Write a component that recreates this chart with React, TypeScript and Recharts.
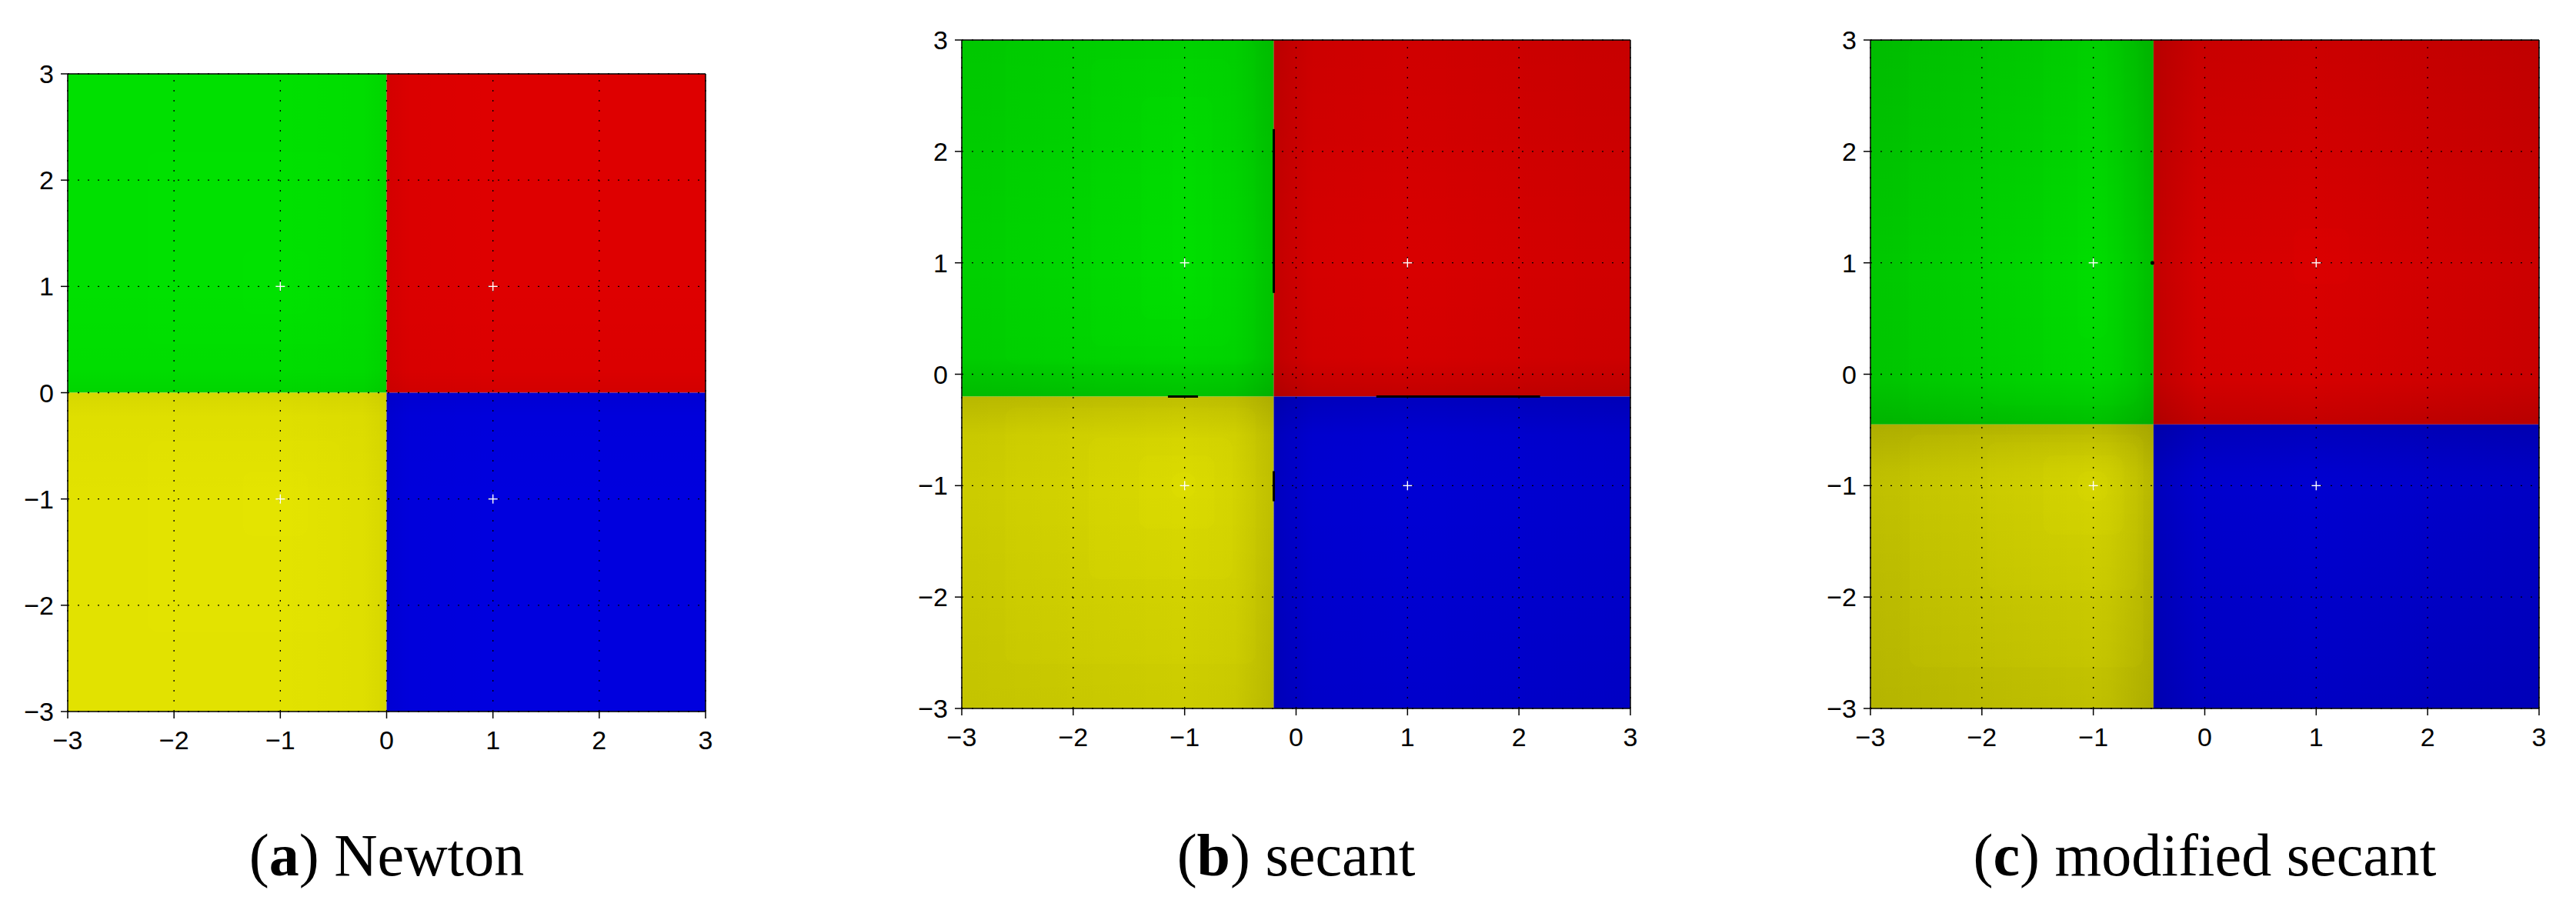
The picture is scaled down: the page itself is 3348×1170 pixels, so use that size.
import React from 'react';
import {
  ComposedChart,
  XAxis,
  YAxis,
  ReferenceArea,
  ReferenceLine,
  ReferenceDot,
  Scatter,
} from 'recharts';

// ---------------- data ----------------
const TICKS = [-3, -2, -1, 0, 1, 2, 3];
const TICK_LABELS = ['−3', '−2', '−1', '0', '1', '2', '3'];
const ROOTS = [
  { x: 1, y: 1 },
  { x: -1, y: 1 },
  { x: -1, y: -1 },
  { x: 1, y: -1 },
];

// basin boundaries [x, y] for each method
const SPLIT_NEWTON = [0, 0];
const SPLIT_SECANT = [-0.2, -0.2];
const SPLIT_MODIFIED = [-0.46, -0.45];

// level-set regions [x1, x2, y1, y2]
const NEWTON_GREEN_RINGS = [
  [-2.25, -0.43, 0.46, 2.26],
  [-1.35, -0.73, 0.74, 1.34],
];
const NEWTON_YELLOW_RINGS = [
  [-2.25, -0.44, -2.25, -0.45],
  [-1.35, -0.74, -1.35, -0.74],
];
const SECANT_GREEN_RINGS = [
  [-2.61, -0.36, 0.09, 3],
  [-1.84, -0.59, 0.25, 2.83],
  [-1.39, -0.75, 0.49, 2.49],
  [-1.11, -0.9, 0.7, 2.18],
];
const SECANT_YELLOW_RINGS = [
  [-2.61, -0.36, -2.6, -0.3],
  [-1.86, -0.57, -1.84, -0.57],
  [-1.41, -0.73, -1.39, -0.73],
  [-1.12, -0.9, -1.11, -0.88],
];
const MODIFIED_GREEN_RINGS = [
  [-2.66, -0.55, -0.42, 3],
  [-1.95, -0.6, -0.28, 3],
  [-1.45, -0.73, -0.05, 3],
  [-1.14, -0.87, 0.32, 3],
];
const MODIFIED_YELLOW_RINGS = [
  [-2.65, -0.55, -2.63, -0.54],
  [-1.95, -0.6, -1.94, -0.61],
  [-1.45, -0.73, -1.44, -0.73],
  [-1.14, -0.87, -1.14, -0.87],
];
const MODIFIED_RED_RINGS = [[0.8, 1.3, 0.81, 1.31]];

// black boundary pieces in the secant plot [[x, y], [x, y]]
const SECANT_SEGMENTS = [
  [[-0.2, 2.2], [-0.2, 0.73]],
  [[-1.15, -0.2], [-0.88, -0.2]],
  [[0.72, -0.2], [2.19, -0.2]],
  [[-0.2, -0.87], [-0.2, -1.14]],
];
const MODIFIED_DOTS = [{ x: -0.47, y: 1 }];

const CAPTION_LETTERS = ['a', 'b', 'c'];
const CAPTION_NAMES = ['Newton', 'secant', 'modified secant'];

// ---------------- styling ----------------
const HUES = { green: '#00ff00', red: '#ff0000', yellow: '#ffff00', blue: '#0000ff' };

const PANELS = [
  {
    id: 'a',
    split: SPLIT_NEWTON,
    plot: { left: 88, top: 96, right: 917, bottom: 925 },
    chartLeft: 0,
    chartWidth: 1000,
    colors: { green: '#00e000', red: '#de0000', yellow: '#e2e200', blue: '#0000de' },
    rings: { green: NEWTON_GREEN_RINGS, yellow: NEWTON_YELLOW_RINGS, red: [], blue: [] },
    shade: { edge: 0, width: 0.22, dark: 0.1 },
    segments: [],
    dots: [],
  },
  {
    id: 'b',
    split: SPLIT_SECANT,
    plot: { left: 1250, top: 52, right: 2119, bottom: 921 },
    chartLeft: 1150,
    chartWidth: 1050,
    colors: { green: '#00d800', red: '#d80000', yellow: '#d4d400', blue: '#0000d4' },
    rings: { green: SECANT_GREEN_RINGS, yellow: SECANT_YELLOW_RINGS, red: [], blue: [] },
    shade: { edge: 0.08, width: 0.35, dark: 0.2 },
    segments: SECANT_SEGMENTS,
    dots: [],
  },
  {
    id: 'c',
    split: SPLIT_MODIFIED,
    plot: { left: 2431, top: 52, right: 3300, bottom: 921 },
    chartLeft: 2340,
    chartWidth: 1000,
    colors: { green: '#00d400', red: '#d80000', yellow: '#cccc00', blue: '#0000d0' },
    rings: { green: MODIFIED_GREEN_RINGS, yellow: MODIFIED_YELLOW_RINGS, red: MODIFIED_RED_RINGS, blue: [] },
    shade: { edge: 0.12, width: 0.4, dark: 0.2 },
    segments: [],
    dots: MODIFIED_DOTS,
  },
];

const CHART_HEIGHT = 1000;
const Y_LEFT_W = 80;
const Y_RIGHT_W = 20;
const X_BOTTOM_H = 60;
const X_TOP_H = 20;

const fmt = (v: number) => {
  const i = TICKS.indexOf(Math.round(v));
  return i >= 0 ? TICK_LABELS[i] : String(v);
};

const PlusMarker = (props: any) => {
  const { cx, cy } = props;
  if (cx == null || cy == null) return <g />;
  return (
    <g>
      <line x1={cx - 6} x2={cx + 6} y1={cy} y2={cy} stroke="#fff" strokeWidth={1.4} />
      <line x1={cx} x2={cx} y1={cy - 6} y2={cy + 6} stroke="#fff" strokeWidth={1.4} />
    </g>
  );
};

function Panel({ cfg }: { cfg: any }) {
  const { plot, chartLeft, chartWidth, split, colors, rings, shade, id } = cfg;
  const [sx, sy] = split;
  const margin = {
    left: plot.left - chartLeft - Y_LEFT_W,
    top: plot.top - X_TOP_H,
    right: chartLeft + chartWidth - plot.right - Y_RIGHT_W,
    bottom: CHART_HEIGHT - plot.bottom - X_BOTTOM_H,
  };

  const quads = [
    { key: 'green', x1: -3, x2: sx, y1: sy, y2: 3, left: true, top: true },
    { key: 'red', x1: sx, x2: 3, y1: sy, y2: 3, left: false, top: true },
    { key: 'yellow', x1: -3, x2: sx, y1: -3, y2: sy, left: true, top: false },
    { key: 'blue', x1: sx, x2: 3, y1: -3, y2: sy, left: false, top: false },
  ];

  const hStops = (q: any) => {
    const pts = q.left
      ? [
          { v: -3, o: shade.edge },
          { v: -1, o: 0 },
          { v: sx - shade.width, o: 0.03 },
          { v: sx, o: shade.dark },
        ]
      : [
          { v: sx, o: shade.dark },
          { v: sx + shade.width, o: 0.03 },
          { v: 1, o: 0 },
          { v: 3, o: shade.edge },
        ];
    return pts.map((p) => ({ off: (p.v - q.x1) / (q.x2 - q.x1), o: p.o }));
  };
  const vStops = (q: any) => {
    const pts = q.top
      ? [
          { v: 3, o: shade.edge },
          { v: 1, o: 0 },
          { v: sy + shade.width, o: 0.03 },
          { v: sy, o: shade.dark },
        ]
      : [
          { v: sy, o: shade.dark },
          { v: sy - shade.width, o: 0.03 },
          { v: -1, o: 0 },
          { v: -3, o: shade.edge },
        ];
    return pts.map((p) => ({ off: (q.y2 - p.v) / (q.y2 - q.y1), o: p.o }));
  };

  const axisStyle = { stroke: '#000', strokeWidth: 1.5 };
  const tickStyle = { fontSize: 34, fontFamily: 'Liberation Sans, Arial, sans-serif', fill: '#000' };

  return (
    <div style={{ position: 'absolute', left: chartLeft, top: 0, width: chartWidth, height: CHART_HEIGHT }}>
      <ComposedChart width={chartWidth} height={CHART_HEIGHT} margin={margin}>
        <defs>
          {quads.map((q) => (
            <linearGradient key={`h${q.key}`} id={`${id}-h-${q.key}`} x1="0" y1="0" x2="1" y2="0">
              {hStops(q).map((s, i) => (
                <stop key={i} offset={Math.max(0, Math.min(1, s.off))} stopColor="#000" stopOpacity={s.o} />
              ))}
            </linearGradient>
          ))}
          {quads.map((q) => (
            <linearGradient key={`v${q.key}`} id={`${id}-v-${q.key}`} x1="0" y1="0" x2="0" y2="1">
              {vStops(q).map((s, i) => (
                <stop key={i} offset={Math.max(0, Math.min(1, s.off))} stopColor="#000" stopOpacity={s.o} />
              ))}
            </linearGradient>
          ))}
        </defs>
        <XAxis
          type="number"
          dataKey="x"
          domain={[-3, 3]}
          ticks={TICKS}
          interval={0}
          allowDataOverflow
          height={X_BOTTOM_H}
          tickSize={9}
          tickMargin={16}
          tickFormatter={fmt}
          tick={tickStyle}
          axisLine={axisStyle}
          tickLine={axisStyle}
        />
        <XAxis
          xAxisId="top"
          orientation="top"
          type="number"
          domain={[-3, 3]}
          ticks={TICKS}
          interval={0}
          allowDataOverflow
          height={X_TOP_H}
          tickSize={9}
          tick={false}
          axisLine={axisStyle}
          tickLine={axisStyle}
        />
        <YAxis
          type="number"
          dataKey="y"
          domain={[-3, 3]}
          ticks={TICKS}
          interval={0}
          allowDataOverflow
          width={Y_LEFT_W}
          tickSize={9}
          tickMargin={9}
          tickFormatter={fmt}
          tick={tickStyle}
          axisLine={axisStyle}
          tickLine={axisStyle}
        />
        <YAxis
          yAxisId="right"
          orientation="right"
          type="number"
          domain={[-3, 3]}
          ticks={TICKS}
          interval={0}
          allowDataOverflow
          width={Y_RIGHT_W}
          tickSize={9}
          tick={false}
          axisLine={axisStyle}
          tickLine={axisStyle}
        />

        {quads.map((q) => (
          <ReferenceArea
            key={`base-${q.key}`}
            x1={q.x1}
            x2={q.x2}
            y1={q.y1}
            y2={q.y2}
            fill={colors[q.key]}
            fillOpacity={1}
            stroke="none"
            ifOverflow="visible"
          />
        ))}
        {quads.map((q) =>
          (rings[q.key] || []).map((r: number[], i: number) => (
            <ReferenceArea
              key={`ring-${q.key}-${i}`}
              x1={r[0]}
              x2={r[1]}
              y1={r[2]}
              y2={r[3]}
              fill={HUES[q.key]}
              fillOpacity={0.06}
              stroke="none"
              radius={14}
              ifOverflow="visible"
            />
          ))
        )}
        {quads.map((q) => (
          <ReferenceArea
            key={`hs-${q.key}`}
            x1={q.x1}
            x2={q.x2}
            y1={q.y1}
            y2={q.y2}
            fill={`url(#${id}-h-${q.key})`}
            stroke="none"
            ifOverflow="visible"
          />
        ))}
        {quads.map((q) => (
          <ReferenceArea
            key={`vs-${q.key}`}
            x1={q.x1}
            x2={q.x2}
            y1={q.y1}
            y2={q.y2}
            fill={`url(#${id}-v-${q.key})`}
            stroke="none"
            ifOverflow="visible"
          />
        ))}

        {TICKS.map((t) => (
          <ReferenceLine
            key={`gx${t}`}
            x={t}
            stroke="#000"
            strokeWidth={1.3}
            strokeDasharray="2 11"
            ifOverflow="visible"
          />
        ))}
        {TICKS.map((t) => (
          <ReferenceLine
            key={`gy${t}`}
            y={t}
            stroke="#000"
            strokeWidth={1.3}
            strokeDasharray="2 11"
            ifOverflow="visible"
          />
        ))}

        {cfg.segments.map((s: number[][], i: number) => (
          <ReferenceLine
            key={`seg${i}`}
            segment={[
              { x: s[0][0], y: s[0][1] },
              { x: s[1][0], y: s[1][1] },
            ]}
            stroke="#000"
            strokeWidth={3}
            ifOverflow="visible"
          />
        ))}
        {cfg.dots.map((d: any, i: number) => (
          <ReferenceDot key={`dot${i}`} x={d.x} y={d.y} r={2.5} fill="#000" stroke="none" ifOverflow="visible" />
        ))}

        <Scatter data={ROOTS} dataKey="y" shape={PlusMarker} isAnimationActive={false} />
      </ComposedChart>
    </div>
  );
}

function Caption({ index }: { index: number }) {
  const p = PANELS[index].plot;
  const cx = (p.left + p.right) / 2;
  return (
    <div
      style={{
        position: 'absolute',
        left: cx - 400,
        width: 800,
        top: 1073,
        textAlign: 'center',
        fontFamily: 'Liberation Serif, "Times New Roman", serif',
        fontSize: 78,
        lineHeight: '78px',
        color: '#000',
        whiteSpace: 'nowrap',
      }}
    >
      (<b>{CAPTION_LETTERS[index]}</b>) {CAPTION_NAMES[index]}
    </div>
  );
}

export default function App() {
  return (
    <div style={{ position: 'absolute', left: 0, top: 0, width: 3348, height: 1170, background: '#fff', overflow: 'hidden' }}>
      {PANELS.map((cfg) => (
        <Panel key={cfg.id} cfg={cfg} />
      ))}
      {PANELS.map((_, i) => (
        <Caption key={i} index={i} />
      ))}
    </div>
  );
}
